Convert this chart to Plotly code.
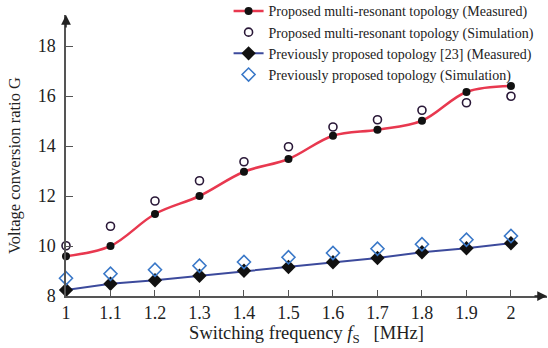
import plotly.graph_objects as go

freq = [1.0, 1.1, 1.2, 1.3, 1.4, 1.5, 1.6, 1.7, 1.8, 1.9, 2.0]
prop_meas = [9.59, 10.0, 11.28, 12.0, 12.97, 13.48, 14.41, 14.65, 15.01, 16.16, 16.4]
prop_sim = [10.01, 10.79, 11.8, 12.61, 13.37, 13.97, 14.76, 15.05, 15.43, 15.73, 15.99]
prev_meas = [8.24, 8.49, 8.63, 8.81, 9.01, 9.16, 9.35, 9.52, 9.75, 9.91, 10.11]
prev_sim = [8.71, 8.89, 9.05, 9.21, 9.36, 9.55, 9.72, 9.89, 10.07, 10.25, 10.4]

x_ticks = [1, 1.1, 1.2, 1.3, 1.4, 1.5, 1.6, 1.7, 1.8, 1.9, 2]
x_tick_text = ["1", "1.1", "1.2", "1.3", "1.4", "1.5", "1.6", "1.7", "1.8", "1.9", "2"]
y_ticks = [8, 10, 12, 14, 16, 18]

FONT = "Liberation Serif"
AX = "#555555"
TXT = "#222222"

fig = go.Figure()
fig.add_trace(go.Scatter(
    x=freq, y=prop_meas, mode="lines+markers", name="Proposed multi-resonant topology (Measured)",
    line=dict(color="#e8384f", width=2.5, shape="spline", smoothing=1.0),
    marker=dict(symbol="circle", size=8, color="#111111"), cliponaxis=False))
fig.add_trace(go.Scatter(
    x=freq, y=prop_sim, mode="markers", name="Proposed multi-resonant topology (Simulation)",
    marker=dict(symbol="circle-open", size=8, color="#2a1838", line=dict(width=1.6)), cliponaxis=False))
fig.add_trace(go.Scatter(
    x=freq, y=prev_meas, mode="lines+markers", name="Previously proposed topology [23] (Measured)",
    line=dict(color="#3c4a9c", width=2),
    marker=dict(symbol="diamond", size=11, color="#111111"), cliponaxis=False))
fig.add_trace(go.Scatter(
    x=freq, y=prev_sim, mode="markers", name="Previously proposed topology (Simulation)",
    marker=dict(symbol="diamond-open", size=10, color="#3a78c8", line=dict(width=1.6)), cliponaxis=False))

fig.update_layout(
    width=548, height=348,
    margin=dict(l=66, r=1, t=15, b=52, autoexpand=False),
    paper_bgcolor="white", plot_bgcolor="white",
    font=dict(family=FONT, color=TXT),
    showlegend=True,
    legend=dict(x=0.338, y=1.07, xanchor="left", yanchor="top", bgcolor="rgba(0,0,0,0)",
                font=dict(family=FONT, size=14, color=TXT), itemwidth=30,
                tracegroupgap=0),
    xaxis=dict(range=[1, 2.081], tickmode="array", tickvals=x_ticks, ticktext=x_tick_text,
               ticks="inside", ticklen=6, tickcolor=AX, showline=True, linecolor=AX, linewidth=1.5,
               showgrid=False, zeroline=False, tickfont=dict(family=FONT, size=18, color=TXT),
               title=dict(text="Switching frequency <i>f</i><sub>S</sub>   [MHz]",
                          font=dict(family=FONT, size=18.5, color=TXT), standoff=4)),
    yaxis=dict(range=[8, 19.24], tickmode="array", tickvals=y_ticks,
               ticks="inside", ticklen=7, tickcolor=AX, showline=True, linecolor=AX, linewidth=1.5,
               showgrid=False, zeroline=False, tickfont=dict(family=FONT, size=18, color=TXT),
               ticklabelstandoff=5),
)

fig.add_annotation(text="Voltage conversion ratio G", textangle=-90, showarrow=False,
                   x=-0.108, y=0.4626, xref="paper", yref="paper", xanchor="center", yanchor="middle",
                   font=dict(family=FONT, size=16.5, color=TXT))

fig.add_annotation(x=0, y=1, xref="paper", yref="paper", ax=0, ay=14, axref="pixel", ayref="pixel",
                   showarrow=True, arrowhead=2, arrowsize=1.3, arrowwidth=1.5, arrowcolor="#222222", text="")
fig.add_annotation(x=1, y=0, xref="paper", yref="paper", ax=-14, ay=0, axref="pixel", ayref="pixel",
                   showarrow=True, arrowhead=2, arrowsize=1.3, arrowwidth=1.5, arrowcolor="#222222", text="")

fig.write_html("out.html")
